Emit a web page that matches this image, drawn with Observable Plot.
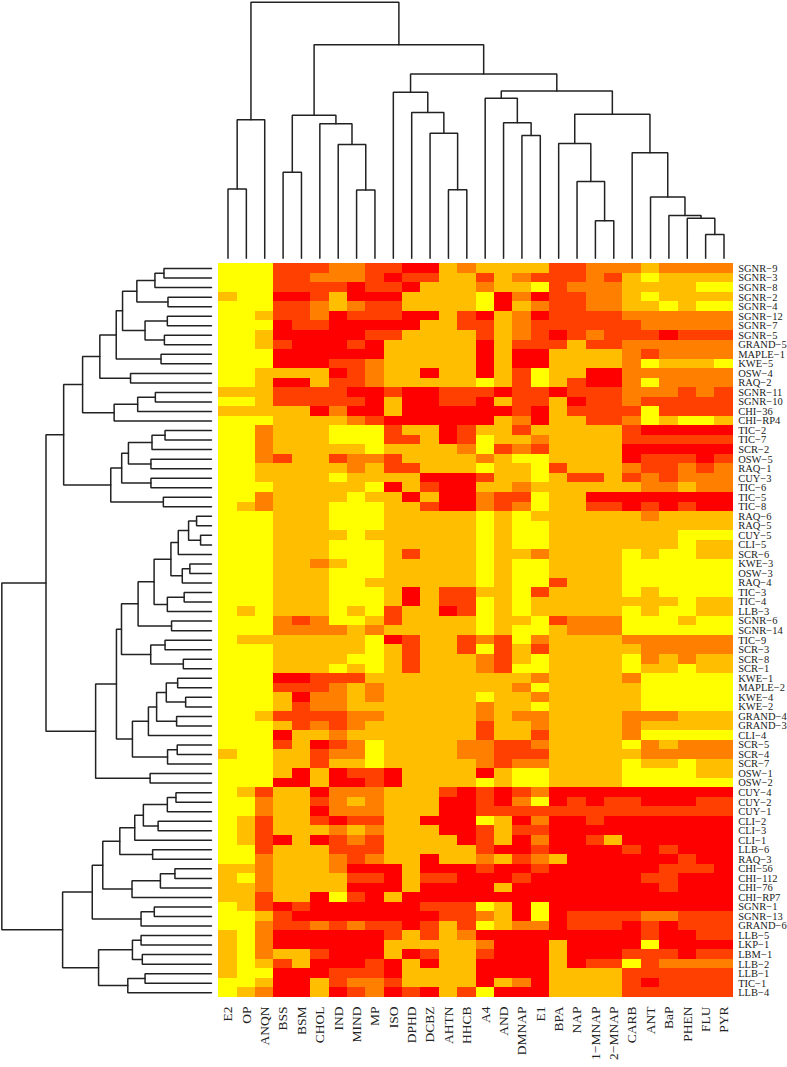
<!DOCTYPE html>
<html>
<head>
<meta charset="utf-8">
<script src="https://cdn.jsdelivr.net/npm/d3@7"></script>
<script src="https://cdn.jsdelivr.net/npm/@observablehq/plot@0.6"></script>
<style>
html,body{margin:0;padding:0;background:#fff;}
#chart{position:relative;width:787px;height:1067px;overflow:hidden;}
#chart svg{position:absolute;left:0;top:0;background:transparent;overflow:visible;}
</style>
</head>
<body>
<div id="chart"></div>
<script>
const columns = ["E2","OP","ANQN","BSS","BSM","CHOL","IND","MIND","MP","ISO","DPHD","DCBZ","AHTN","HHCB","A4","AND","DMNAP","E1","BPA","NAP","1-MNAP","2-MNAP","CARB","ANT","BaP","PHEN","FLU","PYR"];
const rows = ["SGNR-9","SGNR-3","SGNR-8","SGNR-2","SGNR-4","SGNR-12","SGNR-7","SGNR-5","GRAND-5","MAPLE-1","KWE-5","OSW-4","RAQ-2","SGNR-11","SGNR-10","CHI-36","CHI-RP4","TIC-2","TIC-7","SCR-2","OSW-5","RAQ-1","CUY-3","TIC-6","TIC-5","TIC-8","RAQ-6","RAQ-5","CUY-5","CLI-5","SCR-6","KWE-3","OSW-3","RAQ-4","TIC-3","TIC-4","LLB-3","SGNR-6","SGNR-14","TIC-9","SCR-3","SCR-8","SCR-1","KWE-1","MAPLE-2","KWE-4","KWE-2","GRAND-4","GRAND-3","CLI-4","SCR-5","SCR-4","SCR-7","OSW-1","OSW-2","CUY-4","CUY-2","CUY-1","CLI-2","CLI-3","CLI-1","LLB-6","RAQ-3","CHI-56","CHI-112","CHI-76","CHI-RP7","SGNR-1","SGNR-13","GRAND-6","LLB-5","LKP-1","LBM-1","LLB-2","LLB-1","TIC-1","LLB-4"];
// one digit per column, 0 (lowest class) to 4 (highest class)
const levels = [
"0003332233441211113322212222","0003322234331131233323101111","0003333433411121103222111100",
"1004431444111104243322101111","0003321233111104123322110100","0013324333441341243333222222",
"0004334444411331233333322222","0014444433111131234323334333","0013444341111141333133222222",
"0004444441111141441111232222","0004443321111141441111201110","0011114321141141301144222222",
"0014413321111101301344202222","1113333443443334334333222323","0013333341443341331433233333",
"1111142441444444341333303333","0001111234444441241133201001","0021110003114311311111344444",
"0021110003314301121111333333","0021111101111203231111444444","0023113223111121001111433343",
"0011111213311101103111233232","0011110111144431101331323222","0001111104134411211111122122",
"0021111011414423301144444444","0121110001134423201133434344","0001110001111101011111121111",
"0001110001111101001111111111","0001111011111101001111111000","0001110001111101001111111011",
"0001110001311101121111010011","0001121001111101001111000000","0001110001111101001111000000",
"0001110011111101003111000000","0001110001413311031111010000","0001110001413301011111111011",
"0101110103114301011111010011","0002320013111101103222000100","0002222121111101001222000000",
"0111111104311323021111222222","0001111101311303131111122222","0001111001311123101111021211",
"0001110101311123001111011011","0004433311111111121111200000","0003332121111111201111100000",
"0001422121111101121111100000","0001322111111121101111100000","0013333221111121221111222111",
"0001323211111131121111211111","0004112111111131131111200000","0003143201111223321111021222",
"1001132201111223331111122222","0001131101111123221111011011","0001414334111141001111000011",
"0004414434111101001111000000","0131142221113434324444444444","0021132121114434204343344433",
"0021142221114433333333333333","0131134331144401424434444444","0131112121114431334444444444",
"0134143231111431424431444444","0031113331111134434444343444","0021112321141121321444444344",
"1121112444144434434444443334","1021111334133444344444433444","1121111444144441444444443444",
"1131140341444444444444444444","0134344444433301404444444444","0013444444443321404333322333",
"0023323233431301224333434333","1024444443131244444444434433","1024444441111124441444404444",
"1021134441431134441444333433","1013144434141144441433032222","1004443334111144441111333333",
"0014413223111141241111343333","0124414324341304441111333333"
];
const palette = ["#FFFF00","#FFBF00","#FF8000","#FF4000","#FF0000"];

// Dendrograms: [left, right, merge height]; a number is a leaf position.
const colTree = [
  [[0,1,26.9],2,53.9],
  [
    [[3,4,33.4],[5,[6,[7,8,26.5],44.2],52.3],55.6],
    [
      [9,[10,[11,[12,13,26.6],48.6],56.7],64.6],
      [
        [14,[15,[16,17,47.7],52.7],62.2],
        [
          [18,[19,[20,21,14.6],29.8],44.6],
          [22,[23,[24,[25,[26,27,9.2],15.5],16.6],23.8],41.0],
          56.0
        ],
        65.1
      ],
      71.7
    ],
    83.1
  ],
  99.6
];
const rowGroupA = [
  [
    [
      [[[[[0,1,22.6],2,26.9],[3,4,20.7],35.5],[[5,6,21.0],[7,8,22.4],31.6],42.3],[9,10,24.0],45.3],
      [11,12,38.5],
      53.1
    ],
    [[[13,14,26.7],15,35.1],16,46.3],
    61.3
  ],
  [[[[[17,18,22.1],19,28.3],[20,21,28.8],39.5],[22,23,28.8],42.7],[24,25,22.9],47.9],
  70.3
];
const rowGroupB = [
  [
    [
      [
        [[[[[26,27,7.1],[28,29,5.2],10.9],30,15.8],[[31,32,10.3],33,13.9],19.3],[[34,35,13.0],36,21.0],27.3],
        [37,38,19.0],
        34.9
      ],
      [[39,40,22.1],[41,42,13.4],28.9],
      42.8
    ],
    [[[[[43,44,16.1],[45,46,12.3],21.5],[47,48,16.6],26.1],49,30.0],[[50,51,16.3],52,20.9],37.6],
    45.2
  ],
  [53,54,29.2],
  55.1
];
const rowGroupC = [
  [
    [
      [[[[[55,56,16.9],57,21.0],[58,59,25.4],32.4],60,36.5],[61,62,28.0],43.6],
      [[[63,64,17.4],65,24.3],66,37.8],
      51.7
    ],
    [[67,68,27.2],69,33.5],
    56.7
  ],
  [[[70,71,33.5],[72,73,32.9],37.6],[[74,75,31.6],76,39.8],53.7],
  70.8
];
const rowTree = [[rowGroupA,rowGroupB,78.7],rowGroupC,99.7];

function treePaths(tree){
  const pts = []; let id = 0;
  (function walk(n){
    if (typeof n === "number") return {pos:n+0.5,h:0};
    const a = walk(n[0]), b = walk(n[1]), k = id++;
    pts.push({id:k,pos:a.pos,h:a.h},{id:k,pos:a.pos,h:n[2]},{id:k,pos:b.pos,h:n[2]},{id:k,pos:b.pos,h:b.h});
    return {pos:(a.pos+b.pos)/2,h:n[2]};
  })(tree);
  return pts;
}

const cells = rows.flatMap((r,i)=>columns.map((c,j)=>({row:r,col:c,level:+levels[i][j]})));
const minus = s => s.replace("-","\u2212");
const font = "'Liberation Serif','Times New Roman',serif";
const L = 218.3, R = 54.3, T = 263.3, B = 70;
const chart = document.getElementById("chart");

chart.append(Plot.plot({
  width:787,height:1067,marginLeft:L,marginRight:R,marginTop:T,marginBottom:B,
  style:{fontFamily:font,background:"transparent",color:"#222"},
  x:{domain:columns,padding:0,round:false,label:null},
  y:{domain:rows,padding:0,round:false,label:null},
  color:{type:"ordinal",domain:[0,1,2,3,4],range:palette},
  marks:[
    Plot.cell(cells,{x:"col",y:"row",fill:"level",shapeRendering:"crispEdges"}),
    Plot.axisX({anchor:"bottom",tickSize:0,tickPadding:9,tickRotate:-90,fontSize:13.5,label:null,tickFormat:minus,textOverflow:null}),
    Plot.axisY({anchor:"right",tickSize:0,tickPadding:5,fontSize:10.5,label:null,tickFormat:minus})
  ]
}));

chart.append(Plot.plot({
  width:787,height:259,marginLeft:L,marginRight:R,marginTop:0.7,marginBottom:1.3,
  style:{background:"transparent"},
  x:{domain:[0,columns.length],axis:null},
  y:{domain:[0,100],axis:null},
  marks:[Plot.line(treePaths(colTree),{x:"pos",y:"h",z:"id",stroke:"#222",strokeWidth:1.5,curve:"linear",strokeLinejoin:"miter"})]
}));

chart.append(Plot.plot({
  width:213,height:1067,marginLeft:0.7,marginRight:2,marginTop:T,marginBottom:B,
  style:{background:"transparent"},
  x:{domain:[100,0],axis:null},
  y:{domain:[0,rows.length],reverse:true,axis:null},
  marks:[Plot.line(treePaths(rowTree),{x:"h",y:"pos",z:"id",stroke:"#222",strokeWidth:1.5,curve:"linear",strokeLinejoin:"miter"})]
}));
</script>
</body>
</html>
